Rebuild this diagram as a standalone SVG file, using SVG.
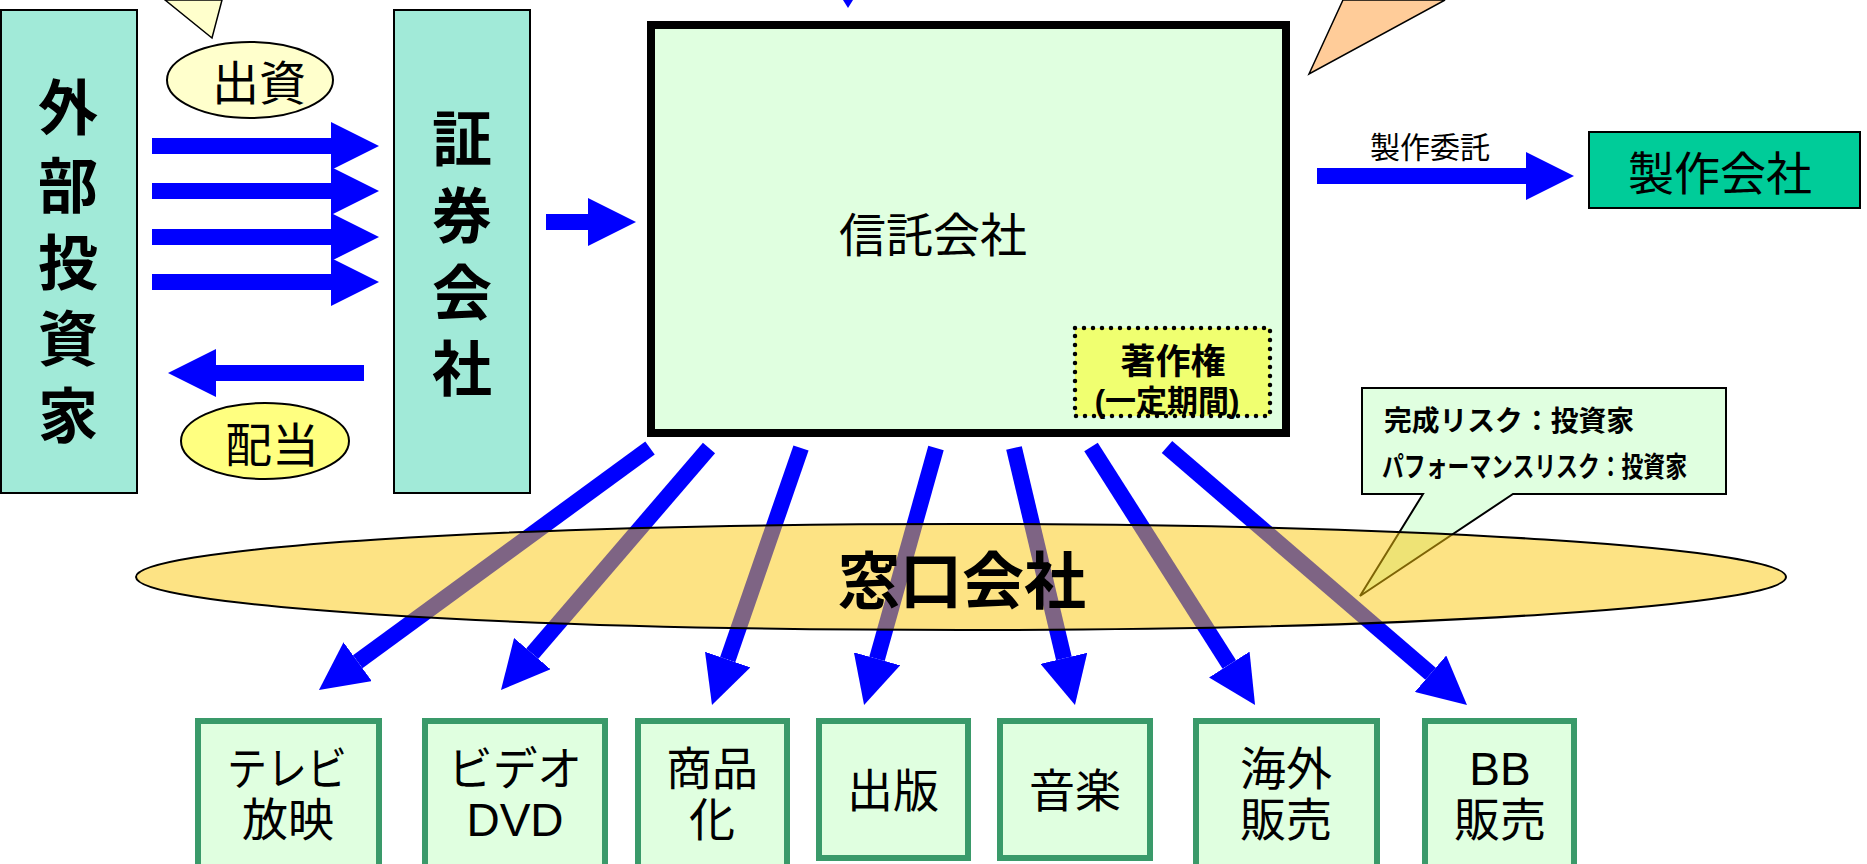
<svg xmlns="http://www.w3.org/2000/svg" width="1867" height="864" viewBox="0 0 1867 864">
<defs>
<style>
text { font-family: "Liberation Sans", "Noto Sans CJK JP", sans-serif; fill: #000; text-anchor: middle; }
.b { font-weight: bold; }
.teal { fill: #a1ead8; stroke: #000; stroke-width: 2; }
.prod { fill: #e0ffe0; stroke: #3a9a6a; stroke-width: 6; }
.ar { stroke: #0000ff; fill: none; }
.pl { font-size: 46px; }
</style>
<marker id="ah" markerUnits="userSpaceOnUse" markerWidth="48" markerHeight="48" refX="0" refY="24" orient="auto" viewBox="0 0 48 48">
<path d="M0,0 L48,24 L0,48 Z" fill="#0000ff"/>
</marker>
</defs>
<rect width="1867" height="864" fill="#fff"/>

<g id="connectors">
<g class="ar" stroke-width="16" marker-end="url(#ah)">
<line x1="152" y1="146" x2="331" y2="146"/>
<line x1="152" y1="191" x2="331" y2="191"/>
<line x1="152" y1="237" x2="331" y2="237"/>
<line x1="152" y1="282" x2="331" y2="282"/>
<line x1="364" y1="373" x2="216" y2="373"/>
<line x1="546" y1="222" x2="588" y2="222"/>
<line x1="1317" y1="176" x2="1526" y2="176"/>
<line x1="650" y1="448" x2="357.7" y2="661.7"/>
<line x1="709" y1="448" x2="532.3" y2="653.6"/>
<line x1="801" y1="448" x2="727.7" y2="659.6"/>
<line x1="936" y1="448" x2="877" y2="658.8"/>
<line x1="1014" y1="448" x2="1063.9" y2="658.3"/>
<line x1="1091" y1="447" x2="1229.3" y2="664.5"/>
<line x1="1167" y1="447" x2="1430.6" y2="673.7"/>
</g>
<polygon points="843,0 853,0 848,8" fill="#0000ff"/>
<text x="1430" y="158" style="font-size:30px">製作委託</text>
</g>

<g id="callout-top-left">
<polygon points="165,0 212,38 222,0" fill="#ffffcc" stroke="#000" stroke-width="1.5"/>
</g>
<g id="callout-top-right">
<polygon points="1343,0 1309,74 1445,0" fill="#ffcc99" stroke="#000" stroke-width="1.5"/>
</g>

<g id="investors">
<rect class="teal" x="1" y="10" width="136" height="483"/>
<g class="b" style="font-size:60px">
<text x="68" y="130">外</text>
<text x="68" y="208">部</text>
<text x="68" y="285">投</text>
<text x="68" y="361">資</text>
<text x="68" y="438">家</text>
</g>
</g>

<g id="shusshi">
<ellipse cx="250" cy="80" rx="83" ry="38" fill="#ffffcc" stroke="#000" stroke-width="2"/>
<text x="259" y="100" style="font-size:47px">出資</text>
</g>

<g id="haito">
<ellipse cx="265" cy="441" rx="84" ry="38" fill="#ffff80" stroke="#000" stroke-width="2"/>
<text x="272" y="462" style="font-size:47px">配当</text>
</g>

<g id="securities">
<rect class="teal" x="394" y="10" width="136" height="483"/>
<g class="b" style="font-size:60px">
<text x="462" y="161">証</text>
<text x="462" y="238">券</text>
<text x="462" y="315">会</text>
<text x="462" y="391">社</text>
</g>
</g>

<g id="trust">
<rect x="651" y="25" width="635" height="408" fill="#e0ffe0" stroke="#000" stroke-width="8"/>
<text x="933" y="252" style="font-size:47px">信託会社</text>
</g>

<g id="copyright">
<rect x="1075" y="328" width="195" height="88" fill="#f0ff70" stroke="#000" stroke-width="4.5" stroke-dasharray="0 9" stroke-linecap="round"/>
<text class="b" x="1173" y="374" style="font-size:35px">著作権</text>
<text class="b" x="1167" y="412" style="font-size:31px">(一定期間)</text>
</g>

<g id="production">
<rect x="1589" y="132" width="271" height="76" fill="#00cc99" stroke="#000" stroke-width="2"/>
<text x="1720" y="190" style="font-size:46px">製作会社</text>
</g>

<g id="risk-callout">
<path d="M1362,388 H1726 V494 H1513 L1360,596 L1423,494 H1362 Z" fill="#e0ffe0" stroke="#000" stroke-width="2"/>
<text class="b" x="1384" y="431" style="font-size:28px;text-anchor:start" textLength="250" lengthAdjust="spacingAndGlyphs">完成リスク：投資家</text>
<text class="b" x="1382" y="477" style="font-size:28px;text-anchor:start" textLength="305" lengthAdjust="spacingAndGlyphs">パフォーマンスリスク：投資家</text>
</g>

<g id="madoguchi">
<ellipse cx="961" cy="577" rx="825" ry="53" fill="#fbc709" fill-opacity="0.5" stroke="#000" stroke-width="2"/>
<text class="b" x="962" y="604" style="font-size:62px">窓口会社</text>
</g>

<g id="tv">
<rect class="prod" x="198" y="721" width="181" height="160"/>
<text class="pl" x="287" y="785" textLength="120" lengthAdjust="spacingAndGlyphs">テレビ</text>
<text class="pl" x="288" y="836">放映</text>
</g>
<g id="video">
<rect class="prod" x="425" y="721" width="180" height="160"/>
<text class="pl" x="515" y="785" textLength="134" lengthAdjust="spacingAndGlyphs">ビデオ</text>
<text class="pl" x="515" y="836" style="font-size:46px">DVD</text>
</g>
<g id="goods">
<rect class="prod" x="638" y="721" width="149" height="160"/>
<text class="pl" x="712" y="785">商品</text>
<text class="pl" x="712" y="836">化</text>
</g>
<g id="publish">
<rect class="prod" x="819" y="721" width="149" height="137"/>
<text class="pl" x="893" y="807">出版</text>
</g>
<g id="music">
<rect class="prod" x="1000" y="721" width="150" height="137"/>
<text class="pl" x="1075" y="807">音楽</text>
</g>
<g id="overseas">
<rect class="prod" x="1196" y="721" width="181" height="160"/>
<text class="pl" x="1286" y="785">海外</text>
<text class="pl" x="1286" y="836">販売</text>
</g>
<g id="bb">
<rect class="prod" x="1425" y="721" width="149" height="160"/>
<text class="pl" x="1500" y="785">BB</text>
<text class="pl" x="1500" y="836">販売</text>
</g>
</svg>
